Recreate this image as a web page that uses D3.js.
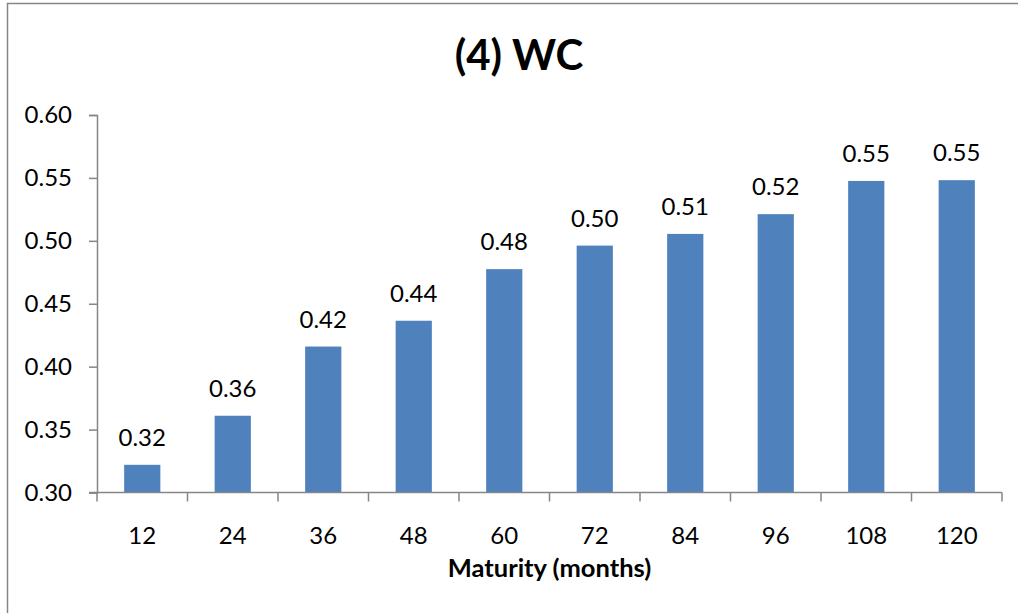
<!DOCTYPE html>
<html>
<head>
<meta charset="utf-8">
<script src="https://cdn.jsdelivr.net/npm/d3@7"></script>
<style>
  html, body { margin: 0; padding: 0; background: #fff; }
  svg { display: block; }
  text { font-family: "Lato", "Open Sans", sans-serif; fill: #000; }
</style>
</head>
<body>
<svg id="chart" width="1018" height="613"></svg>
<script>
// Maturity buckets (months) and the WC value for each
const maturities = ["12", "24", "36", "48", "60", "72", "84", "96", "108", "120"];
const wcValues = [0.322, 0.361, 0.416, 0.4365, 0.4775, 0.4962, 0.5055, 0.5212, 0.5476, 0.5482];
const yTicks = [0.30, 0.35, 0.40, 0.45, 0.50, 0.55, 0.60];
const titleText = "(4) WC";
const xTitle = "Maturity (months)";

const svg = d3.select("#chart");
const plot = { left: 97, right: 1002, top: 115, bottom: 492.5 };
const axisColor = "#868686";
const fontFamily = "Lato, 'Open Sans', sans-serif";
const labelSize = "24px";

// chart frame (runs past the right and bottom edges)
svg.append("rect")
  .attr("x", 7.5).attr("y", 3.5)
  .attr("width", 1040).attr("height", 700)
  .attr("fill", "#fff")
  .attr("stroke", axisColor).attr("stroke-width", 1.5);

const x = d3.scaleBand()
  .domain(maturities)
  .range([plot.left, plot.right])
  .paddingInner(0).paddingOuter(0);

const y = d3.scaleLinear()
  .domain([0.30, 0.60])
  .range([plot.bottom, plot.top]);

// bars: gap width 150% of the bar
const barW = x.bandwidth() / 2.5;
const data = maturities.map((m, i) => ({ m, v: wcValues[i] }));

svg.append("g").selectAll("rect")
  .data(data)
  .join("rect")
  .attr("x", d => x(d.m) + (x.bandwidth() - barW) / 2)
  .attr("y", d => y(d.v))
  .attr("width", barW)
  .attr("height", d => y(0.30) - y(d.v))
  .attr("fill", "#4F81BD");

// value labels above bars
svg.append("g").selectAll("text")
  .data(data)
  .join("text")
  .attr("x", d => x(d.m) + x.bandwidth() / 2)
  .attr("y", d => y(d.v) - 19)
  .attr("text-anchor", "middle")
  .style("font-size", labelSize)
  .text(d => d.v.toFixed(2));

// y axis
const yAxis = svg.append("g")
  .attr("transform", `translate(${plot.left},0)`)
  .call(d3.axisLeft(y).tickValues(yTicks).tickFormat(d3.format(".2f")).tickSize(8).tickPadding(17));
yAxis.select(".domain").attr("stroke", axisColor).attr("stroke-width", 1.5);
yAxis.selectAll(".tick line").attr("stroke", axisColor).attr("stroke-width", 1.5);
yAxis.selectAll(".tick text")
  .style("font-family", fontFamily)
  .style("font-size", labelSize)
  .attr("fill", "#000");

// x axis: labels at band centres, tick marks at band boundaries
const xAxis = svg.append("g")
  .attr("transform", `translate(0,${plot.bottom})`)
  .call(d3.axisBottom(x).tickSize(0).tickPadding(34));
xAxis.select(".domain").remove();
xAxis.selectAll(".tick text")
  .style("font-family", fontFamily)
  .style("font-size", labelSize)
  .attr("fill", "#000");

svg.append("line")
  .attr("x1", plot.left - 8).attr("x2", plot.right)
  .attr("y1", plot.bottom).attr("y2", plot.bottom)
  .attr("stroke", axisColor).attr("stroke-width", 1.5);

const boundaries = maturities.map(m => x(m)).concat([x(maturities[maturities.length - 1]) + x.bandwidth()]);
svg.append("g").selectAll("line")
  .data(boundaries)
  .join("line")
  .attr("x1", d => d).attr("x2", d => d)
  .attr("y1", plot.bottom).attr("y2", plot.bottom + 9)
  .attr("stroke", axisColor).attr("stroke-width", 1.5);

// titles
svg.append("text")
  .attr("x", 519).attr("y", 70)
  .attr("text-anchor", "middle")
  .style("font-size", "42px").style("font-weight", "bold")
  .text(titleText);

svg.append("text")
  .attr("x", (plot.left + plot.right) / 2).attr("y", 577)
  .attr("text-anchor", "middle")
  .style("font-size", "25.5px").style("font-weight", "bold")
  .text(xTitle);
</script>
</body>
</html>
